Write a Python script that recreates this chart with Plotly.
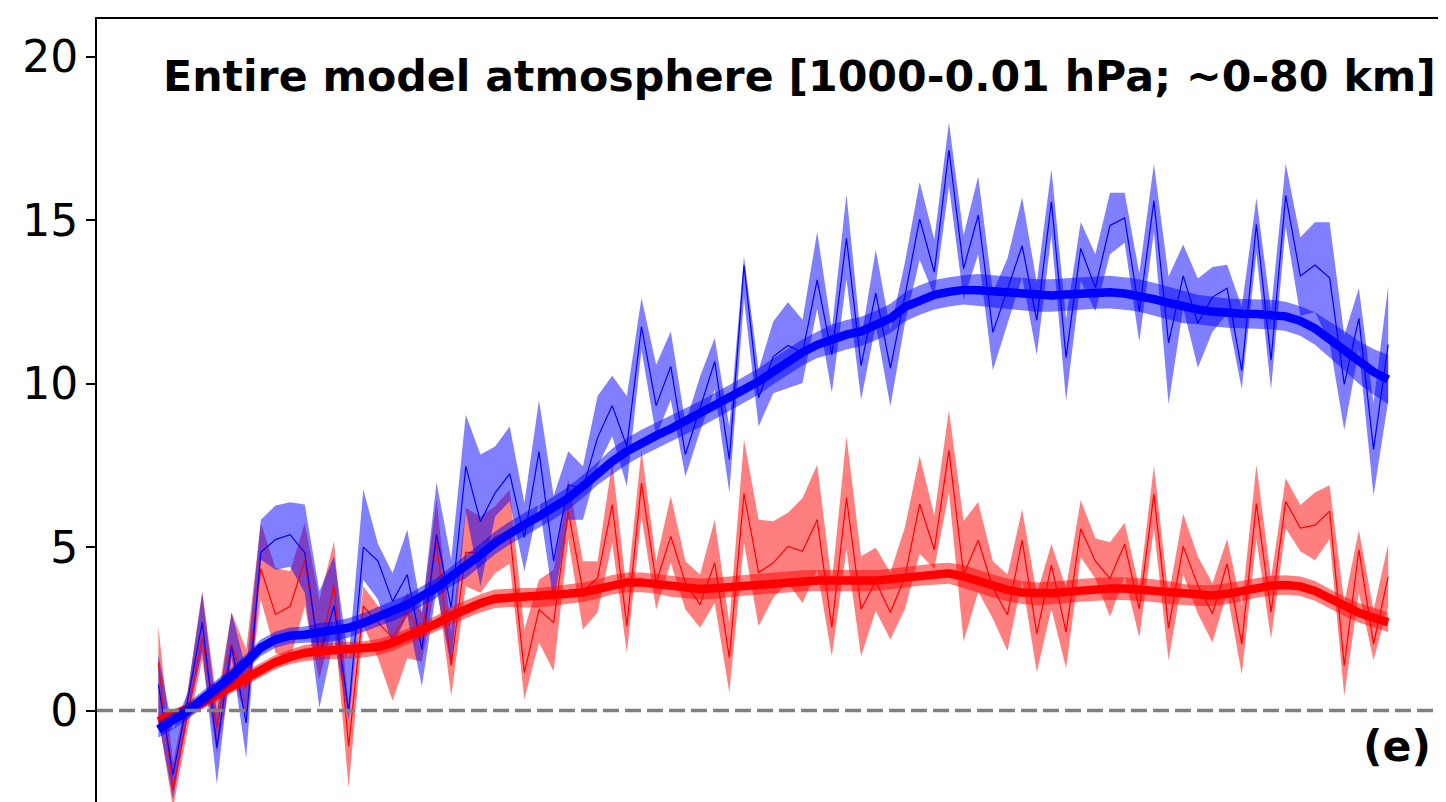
import plotly.graph_objects as go

# ---------------- data ----------------
years = list(range(2016, 2101))  # 85 annual steps (x axis not shown in the crop)

blue_mean = [0.80, -1.96, 0.30, 2.70, -1.14, 1.97, -0.38, 4.84, 5.23, 5.38,
             4.83, 1.65, 3.21, -0.02, 5.00, 4.57, 3.34, 4.16, 1.87, 5.38,
             3.15, 7.47, 5.78, 6.66, 7.24, 5.29, 7.92, 4.57, 6.91, 6.79,
             8.35, 9.33, 8.08, 11.75, 9.33, 10.53, 7.83, 9.24, 10.68, 7.68,
             13.62, 9.57, 10.83, 11.17, 10.95, 13.18, 10.89, 14.45, 10.55, 12.78,
             10.48, 12.70, 15.04, 13.41, 17.15, 13.52, 15.16, 11.57, 12.88, 14.22,
             11.94, 15.57, 10.80, 14.14, 12.94, 14.84, 15.07, 12.21, 15.60, 11.25,
             13.30, 11.85, 12.65, 12.92, 10.40, 14.88, 10.72, 15.76, 13.30, 13.63,
             13.24, 9.98, 12.00, 7.99, 11.20]
blue_lo = [-0.30, -2.70, -0.20, 1.80, -2.26, 1.65, -1.45, 4.62, 4.31, 4.40,
           3.60, 0.08, 2.17, -0.30, 4.00, 3.40, 2.00, 2.90, 0.74, 3.70,
           1.34, 6.10, 3.80, 5.94, 6.40, 4.26, 6.36, 3.30, 5.84, 5.84,
           7.47, 8.39, 6.86, 11.04, 8.39, 9.51, 7.16, 8.54, 9.82, 6.66,
           12.60, 8.69, 9.71, 9.87, 10.02, 12.30, 9.72, 13.20, 9.51, 11.80,
           9.31, 11.87, 13.79, 12.68, 16.05, 12.57, 13.96, 10.41, 11.87, 13.26,
           10.88, 14.54, 9.48, 13.15, 12.22, 13.96, 14.31, 11.28, 14.64, 9.38,
           12.32, 10.49, 11.59, 12.13, 9.84, 13.99, 9.82, 14.81, 12.08, 12.19,
           11.26, 8.58, 11.04, 6.58, 9.46]
blue_hi = [1.71, -0.60, 0.55, 3.60, -0.07, 3.00, 1.25, 5.84, 6.27, 6.37,
           6.30, 3.65, 4.72, 1.60, 6.76, 5.10, 4.20, 5.53, 3.00, 6.98,
           4.62, 9.05, 7.83, 8.08, 8.69, 6.36, 9.49, 6.56, 7.93, 7.47,
           9.62, 10.24, 9.62, 12.62, 10.58, 11.60, 8.79, 10.22, 11.40, 8.69,
           13.90, 10.43, 11.90, 12.49, 11.96, 14.65, 11.65, 15.80, 11.35, 14.10,
           11.65, 13.73, 16.17, 14.42, 18.00, 14.54, 16.34, 12.80, 13.84, 15.70,
           13.09, 16.57, 11.99, 14.95, 13.96, 15.84, 15.84, 13.38, 16.72, 13.28,
           14.26, 13.22, 13.57, 13.64, 12.35, 15.68, 12.24, 16.74, 14.48, 14.94,
           14.94, 11.48, 12.92, 9.40, 12.98]

red_mean = [1.46, -2.42, -0.10, 2.23, -0.52, 2.02, 0.70, 4.34, 2.94, 3.19,
            4.59, 1.71, 3.82, -1.09, 3.19, 2.69, 2.23, 3.00, 2.38, 5.13,
            1.38, 4.84, 4.83, 5.32, 5.48, 1.16, 3.09, 2.69, 6.10, 3.65,
            4.06, 6.30, 2.58, 6.96, 3.91, 5.33, 3.91, 3.24, 4.52, 1.62,
            6.64, 4.22, 4.52, 5.02, 4.87, 5.84, 2.54, 6.51, 3.10, 3.95,
            3.00, 4.10, 6.32, 4.92, 7.96, 4.16, 5.21, 3.75, 2.93, 5.21,
            2.35, 4.45, 2.40, 5.56, 4.57, 4.04, 5.09, 3.11, 6.62, 2.52,
            5.03, 3.83, 2.96, 4.49, 2.03, 6.34, 3.01, 6.40, 5.58, 5.67,
            6.10, 1.37, 4.92, 2.03, 4.10]
red_lo = [-0.20, -3.00, -0.60, 1.56, -1.30, 1.05, -0.17, 3.40, 1.76, 1.56,
          3.19, 0.95, 2.78, -2.37, 2.60, 1.60, 0.30, 1.60, 1.50, 4.00,
          0.44, 3.80, 3.60, 4.20, 4.50, 0.34, 2.08, 1.20, 5.23, 2.48,
          3.00, 5.13, 1.76, 5.94, 3.09, 4.52, 3.09, 2.53, 3.29, 0.54,
          5.13, 2.58, 3.45, 3.91, 3.29, 4.31, 1.66, 4.92, 1.66, 3.05,
          2.17, 3.11, 4.80, 4.34, 6.68, 2.11, 3.63, 2.81, 1.82, 3.98,
          1.17, 3.11, 1.29, 4.69, 4.04, 2.87, 4.10, 2.23, 5.58, 1.54,
          4.16, 2.96, 2.08, 3.61, 1.10, 5.25, 2.19, 5.58, 4.87, 4.60,
          5.25, 0.45, 3.61, 1.54, 3.18]
red_hi = [2.58, -1.60, 0.60, 3.65, 0.30, 3.00, 1.87, 5.74, 4.36, 4.26,
          5.74, 3.39, 5.18, 0.03, 3.80, 3.20, 2.90, 3.60, 3.00, 6.45,
          2.40, 6.20, 5.94, 6.25, 6.76, 2.48, 4.00, 4.31, 7.06, 4.57,
          4.57, 7.62, 3.60, 7.98, 4.57, 6.56, 4.57, 4.16, 5.84, 2.68,
          8.29, 5.84, 5.79, 6.05, 6.50, 7.52, 3.91, 8.39, 4.72, 4.98,
          4.22, 5.62, 7.79, 5.97, 9.19, 5.80, 6.38, 4.57, 4.16, 6.15,
          3.57, 5.09, 3.75, 6.44, 5.27, 5.15, 5.74, 3.75, 7.49, 3.50,
          6.02, 4.71, 3.89, 5.25, 3.18, 7.52, 4.05, 7.11, 6.29, 6.67,
          6.89, 3.29, 5.52, 3.07, 5.09]

blue_smooth = [-0.58, -0.33, -0.02, 0.34, 0.69, 1.05, 1.48, 1.92, 2.17, 2.29,
               2.32, 2.38, 2.42, 2.53, 2.68, 2.87, 3.04, 3.24, 3.50, 3.75,
               4.10, 4.40, 4.76, 5.13, 5.43, 5.69, 5.94, 6.20, 6.50, 6.86,
               7.25, 7.62, 7.93, 8.19, 8.41, 8.62, 8.85, 9.07, 9.31, 9.56,
               9.82, 10.07, 10.38, 10.68, 10.96, 11.19, 11.36, 11.50, 11.60, 11.78,
               12.00, 12.35, 12.56, 12.72, 12.81, 12.87, 12.86, 12.82, 12.79, 12.74,
               12.70, 12.70, 12.73, 12.76, 12.79, 12.80, 12.76, 12.70, 12.59, 12.47,
               12.35, 12.27, 12.21, 12.16, 12.14, 12.13, 12.12, 12.06, 11.92, 11.69,
               11.36, 11.01, 10.65, 10.36, 10.13]
blue_smooth_err = [0.25, 0.25, 0.25, 0.25, 0.25, 0.25, 0.25, 0.25, 0.25, 0.25,
                   0.25, 0.30, 0.30, 0.30, 0.30, 0.30, 0.30, 0.30, 0.30, 0.30,
                   0.30, 0.35, 0.35, 0.35, 0.35, 0.35, 0.35, 0.35, 0.35, 0.35,
                   0.35, 0.40, 0.40, 0.40, 0.40, 0.40, 0.40, 0.40, 0.40, 0.40,
                   0.40, 0.40, 0.40, 0.40, 0.40, 0.40, 0.45, 0.45, 0.45, 0.45,
                   0.45, 0.45, 0.45, 0.45, 0.45, 0.45, 0.50, 0.50, 0.50, 0.50,
                   0.50, 0.50, 0.50, 0.50, 0.50, 0.50, 0.50, 0.50, 0.50, 0.50,
                   0.50, 0.45, 0.45, 0.45, 0.45, 0.45, 0.45, 0.45, 0.45, 0.50,
                   0.55, 0.60, 0.65, 0.70, 0.75]

red_smooth = [-0.33, -0.15, 0.01, 0.23, 0.49, 0.74, 1.00, 1.23, 1.48, 1.64,
              1.76, 1.81, 1.83, 1.84, 1.87, 1.94, 2.07, 2.25, 2.46, 2.66,
              2.90, 3.10, 3.28, 3.42, 3.45, 3.45, 3.45, 3.50, 3.57, 3.62,
              3.72, 3.85, 3.92, 3.92, 3.88, 3.80, 3.75, 3.72, 3.74, 3.78,
              3.83, 3.87, 3.91, 3.93, 3.97, 3.98, 3.98, 3.97, 3.97, 3.98,
              4.02, 4.08, 4.14, 4.18, 4.20, 4.10, 3.96, 3.81, 3.69, 3.61,
              3.57, 3.59, 3.63, 3.68, 3.71, 3.73, 3.73, 3.70, 3.67, 3.61,
              3.55, 3.52, 3.52, 3.57, 3.66, 3.75, 3.82, 3.84, 3.80, 3.66,
              3.42, 3.19, 2.99, 2.84, 2.70]
red_smooth_err = [0.20, 0.20, 0.20, 0.20, 0.20, 0.20, 0.22, 0.22, 0.22, 0.22,
                  0.25, 0.25, 0.25, 0.25, 0.25, 0.25, 0.25, 0.25, 0.25, 0.25,
                  0.28, 0.28, 0.28, 0.28, 0.28, 0.30, 0.30, 0.30, 0.30, 0.30,
                  0.30, 0.30, 0.30, 0.30, 0.30, 0.32, 0.32, 0.32, 0.32, 0.32,
                  0.32, 0.32, 0.32, 0.32, 0.32, 0.32, 0.32, 0.32, 0.32, 0.32,
                  0.32, 0.32, 0.32, 0.32, 0.32, 0.35, 0.35, 0.35, 0.35, 0.35,
                  0.35, 0.35, 0.35, 0.35, 0.35, 0.35, 0.35, 0.35, 0.35, 0.35,
                  0.32, 0.32, 0.32, 0.32, 0.32, 0.30, 0.30, 0.30, 0.30, 0.30,
                  0.30, 0.30, 0.30, 0.30, 0.30]

y_ticks = [0, 5, 10, 15, 20]
title_text = "Entire model atmosphere [1000-0.01 hPa; ~0-80 km]"
panel_label = "(e)"

# ---------------- figure ----------------
FONT = "DejaVu Sans"
BLUE = "#0000ff"
RED = "#ff0000"
BLUE_FILL = "rgba(0,0,255,0.5)"
RED_FILL = "rgba(255,0,0,0.5)"


def band(x, lo, hi, color):
    return go.Scatter(x=list(x) + list(x)[::-1], y=list(hi) + list(lo)[::-1],
                      fill="toself", fillcolor=color, line=dict(width=0),
                      mode="lines", hoverinfo="skip", showlegend=False)


fig = go.Figure()
fig.add_trace(band(years, red_lo, red_hi, RED_FILL))
fig.add_trace(band(years, blue_lo, blue_hi, BLUE_FILL))
fig.add_trace(go.Scatter(x=years, y=red_mean, mode="lines",
                         line=dict(color=RED, width=1.2), showlegend=False))
fig.add_trace(go.Scatter(x=years, y=blue_mean, mode="lines",
                         line=dict(color=BLUE, width=1.2), showlegend=False))

red_s_lo = [m - e for m, e in zip(red_smooth, red_smooth_err)]
red_s_hi = [m + e for m, e in zip(red_smooth, red_smooth_err)]
blue_s_lo = [m - e for m, e in zip(blue_smooth, blue_smooth_err)]
blue_s_hi = [m + e for m, e in zip(blue_smooth, blue_smooth_err)]

fig.add_trace(band(years, red_s_lo, red_s_hi, RED_FILL))
fig.add_trace(go.Scatter(x=years, y=red_smooth, mode="lines",
                         line=dict(color=RED, width=8.5), showlegend=False))
fig.add_trace(band(years, blue_s_lo, blue_s_hi, BLUE_FILL))
fig.add_trace(go.Scatter(x=years, y=blue_smooth, mode="lines",
                         line=dict(color=BLUE, width=8.5), showlegend=False))

# zero reference line
fig.add_shape(type="line", xref="paper", x0=0, x1=1, yref="y", y0=0, y1=0,
              line=dict(color="#808080", width=3.5, dash="16px,6px"), layer="above")

fig.add_annotation(text="<b>" + title_text + "</b>", xref="paper", yref="paper",
                   x=0.9941, y=0.927, xanchor="right", yanchor="middle",
                   showarrow=False, font=dict(family=FONT, size=42.7, color="black"))
fig.add_annotation(text="<b>" + panel_label + "</b>", xref="paper", yref="paper",
                   x=0.9904, y=0.072, xanchor="right", yanchor="middle",
                   showarrow=False, font=dict(family=FONT, size=42.7, color="black"))

# the page body keeps its default 8px margin, so the figure is sized to end
# exactly at the window edge
fig.update_layout(
    width=1438, height=794,
    margin=dict(l=89, r=0, t=11, b=0, autoexpand=False),
    paper_bgcolor="white", plot_bgcolor="white",
    showlegend=False,
    font=dict(family=FONT, color="black"),
    xaxis=dict(range=[years[0] - 4.19, years[-1] + 3.95], side="top",
               automargin=False,
               showline=True, linecolor="black", linewidth=2,
               showgrid=False, zeroline=False, showticklabels=False, ticks=""),
    yaxis=dict(range=[-2.80, 21.16], tickvals=y_ticks,
               ticktext=[str(v) for v in y_ticks], automargin=False,
               showline=True, linecolor="black", linewidth=2,
               ticks="outside", ticklen=9, tickwidth=2, tickcolor="black",
               ticklabelstandoff=-1,
               tickfont=dict(family=FONT, size=44, color="black"),
               showgrid=False, zeroline=False),
)

fig.write_html("out.html")
